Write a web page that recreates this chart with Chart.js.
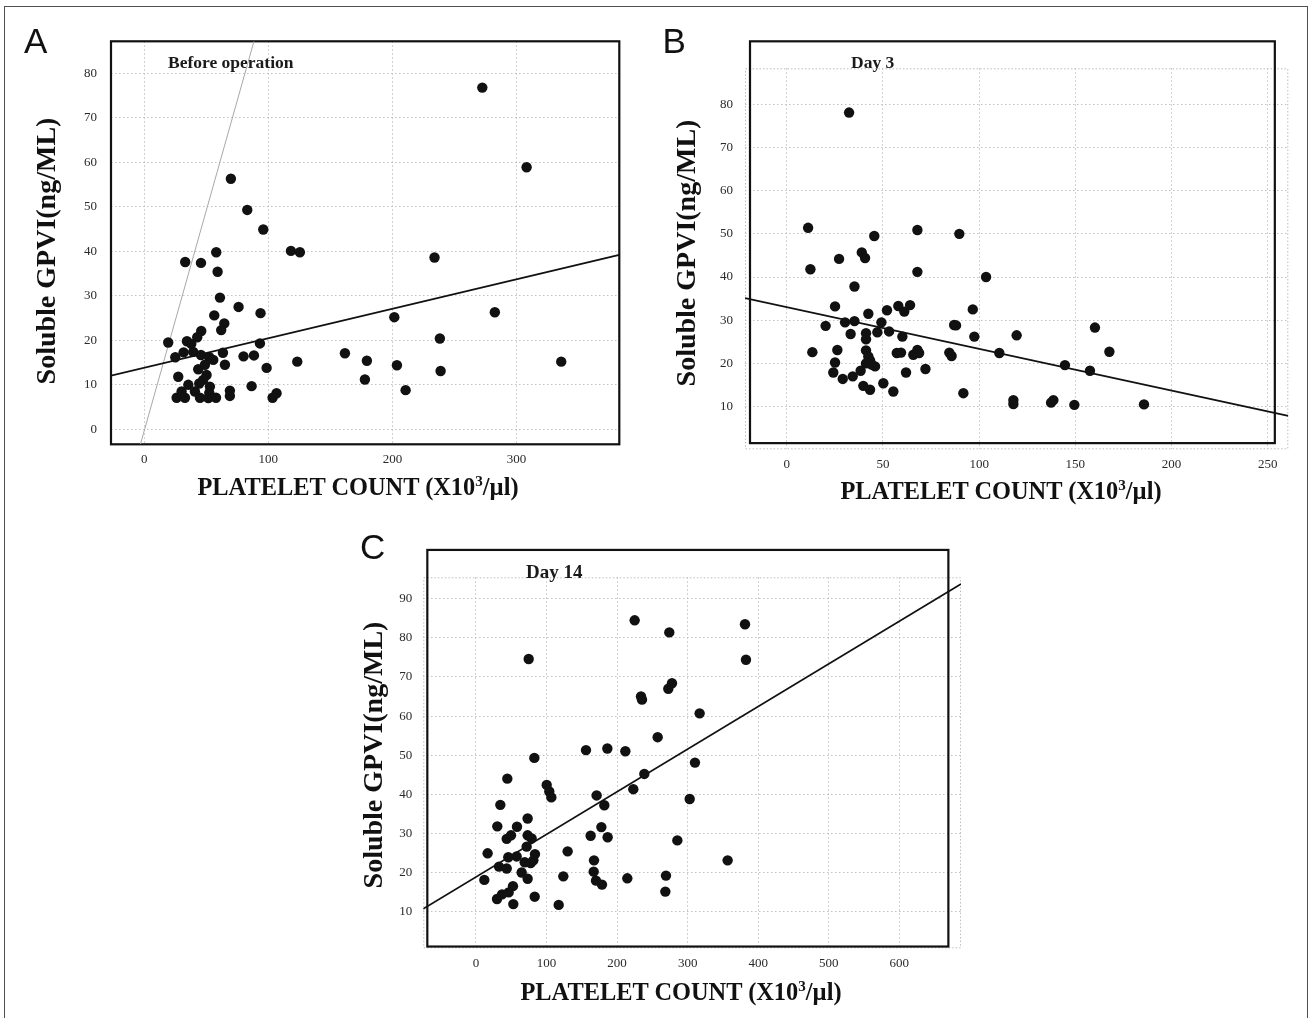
<!DOCTYPE html>
<html>
<head>
<meta charset="utf-8">
<script src="https://cdn.jsdelivr.net/npm/chart.js@4.4.1/dist/chart.umd.min.js"></script>
<style>
  html, body { margin: 0; padding: 0; background: #fff; }
  #figure { position: relative; width: 1312px; height: 1018px; overflow: hidden; }
  #figure canvas { position: absolute; left: 0; top: 0; }
  .outline { position: absolute; left: 4px; top: 6px; width: 1302px; height: 1040px; border: 1.5px solid #505050; }
  .panel { position: absolute; font-family: "Liberation Sans", Arial, sans-serif; font-size: 35px; line-height: 1; color: #111; }
  .ytitle, .xtitle { position: absolute; font-family: "Liberation Serif", "Times New Roman", serif; font-weight: bold;
    line-height: 1; white-space: nowrap; color: #111; transform: translate(-50%, -50%); }
  .ytitle { font-size: 28px; transform: translate(-50%, -50%) rotate(-90deg); }
  .xtitle { font-size: 24.4px; }
  .xtitle .sup { font-size: 0.62em; vertical-align: 0.55em; line-height: 0; }
</style>
</head>
<body>
<div id="figure">
  <div class="outline"></div>
  <canvas id="chartA" width="1312" height="1018"></canvas>
  <canvas id="chartB" width="1312" height="1018"></canvas>
  <canvas id="chartC" width="1312" height="1018"></canvas>

  <div class="panel" style="left:24px;top:22.5px">A</div>
  <div class="panel" style="left:662.5px;top:22.5px">B</div>
  <div class="panel" style="left:360px;top:528.5px">C</div>

  <div class="ytitle" style="left:45.5px;top:251px">Soluble GPVI(ng/ML)</div>
  <div class="ytitle" style="left:686px;top:253px">Soluble GPVI(ng/ML)</div>
  <div class="ytitle" style="left:373px;top:755px">Soluble GPVI(ng/ML)</div>

  <div class="xtitle" style="left:358px;top:487px">PLATELET COUNT (X10<span class="sup">3</span>/µl)</div>
  <div class="xtitle" style="left:1001px;top:491px">PLATELET COUNT (X10<span class="sup">3</span>/µl)</div>
  <div class="xtitle" style="left:681px;top:992px">PLATELET COUNT (X10<span class="sup">3</span>/µl)</div>
</div>

<script>
// ---- values ----
// A: before operation
const beforeX = [69.8, 83.0, 95.9, 58.0, 118.2, 125.4, 33.0, 45.7, 59.1, 233.9, 272.4, 61.0, 76.0, 93.7, 56.4, 64.5, 62.0,
  45.9, 42.7, 19.3, 34.4, 37.9, 93.2, 201.5, 282.5, 238.2, 25.0, 31.7, 39.5, 45.7, 52.4, 55.6, 63.4, 80.0, 88.4, 123.3,
  161.7, 179.4, 203.6, 238.8, 177.8, 210.6, 65.0, 98.6, 43.5, 27.4, 50.2, 47.5, 44.3, 35.5, 86.5, 69.0, 69.0, 26.1, 32.8,
  30.1, 40.8, 44.9, 52.4, 51.6, 57.8, 103.4, 106.6, 52.9, 48.9, 308.1, 336.0];
const beforeY = [56.3, 49.3, 44.9, 39.8, 40.1, 39.8, 37.6, 37.4, 35.4, 38.6, 76.8, 29.6, 27.5, 26.1, 25.6, 23.8, 22.3,
  22.1, 20.7, 19.5, 19.8, 19.2, 19.3, 25.2, 26.3, 20.4, 16.2, 17.3, 17.4, 16.7, 16.2, 15.6, 17.2, 16.4, 16.6, 15.2,
  17.1, 15.4, 14.4, 13.1, 11.2, 8.8, 14.5, 13.8, 13.5, 11.8, 12.2, 11.1, 10.3, 10.0, 9.7, 8.7, 7.5, 7.1, 7.1,
  8.5, 8.5, 7.1, 8.2, 7.0, 7.1, 7.1, 8.1, 9.6, 14.5, 58.9, 15.2];

// B: day 3
const day3X = [32.4, 11.1, 67.9, 89.7, 45.5, 27.2, 39.0, 40.7, 12.3, 67.9, 103.6, 35.2, 25.1, 52.1, 58.0, 64.1, 61.1,
  96.7, 42.4, 20.2, 30.3, 35.2, 49.2, 87.0, 88.0, 160.2, 33.2, 41.2, 41.2, 47.1, 53.2, 60.1, 97.5, 119.5, 13.3, 26.3,
  41.2, 57.2, 59.4, 65.8, 67.9, 68.8, 84.5, 85.7, 110.5, 167.7, 42.4, 43.3, 44.2, 45.9, 25.1, 41.2, 144.6, 157.6, 24.2,
  38.4, 62.0, 72.1, 34.3, 29.1, 50.2, 39.8, 43.3, 55.4, 91.8, 117.8, 117.8, 138.6, 137.4, 149.5, 185.7];
const day3Y = [78.1, 51.4, 50.9, 50.0, 49.5, 44.2, 45.7, 44.4, 41.8, 41.2, 40.0, 37.8, 33.2, 32.3, 33.3, 33.5, 32.0,
  32.5, 31.5, 28.7, 29.5, 29.8, 29.5, 28.9, 28.8, 28.3, 26.8, 27.0, 25.6, 27.2, 27.4, 26.2, 26.2, 26.5, 22.6, 23.1,
  23.0, 22.4, 22.5, 22.0, 23.1, 22.4, 22.5, 21.7, 22.4, 22.7, 21.6, 20.7, 19.7, 19.3, 20.2, 20.0, 19.6, 18.3, 17.9,
  18.3, 17.9, 18.7, 17.0, 16.4, 15.4, 14.8, 13.9, 13.5, 13.1, 11.5, 10.6, 11.5, 10.9, 10.4, 10.5];

// C: day 14
const day14X = [224.9, 274.0, 381.3, 382.7, 74.7, 272.6, 277.8, 233.9, 235.3, 317.0, 257.5, 155.9, 186.2, 211.7, 82.7,
  310.4, 238.6, 44.4, 100.2, 103.9, 106.8, 223.0, 171.0, 302.9, 34.5, 181.9, 73.2, 30.2, 58.1, 177.7, 43.5, 49.6, 73.2,
  78.9, 162.5, 186.6, 285.4, 71.8, 16.5, 129.9, 45.8, 57.6, 83.6, 69.0, 77.5, 81.3, 167.3, 356.7, 32.6, 43.5, 64.7,
  166.8, 269.3, 11.8, 73.2, 123.8, 214.5, 170.1, 178.6, 52.4, 29.8, 36.9, 46.3, 83.2, 268.4, 52.9, 117.2];
const day14Y = [84.5, 81.4, 83.5, 74.4, 74.6, 67.0, 68.4, 65.0, 64.2, 60.7, 54.6, 51.3, 51.7, 51.0, 49.3,
  48.1, 45.2, 44.0, 42.4, 40.7, 39.2, 41.3, 39.7, 38.8, 37.3, 37.2, 33.8, 31.8, 31.7, 31.6, 28.6, 29.5, 29.5,
  28.7, 29.4, 29.0, 28.2, 26.6, 24.9, 25.4, 23.9, 24.1, 24.7, 22.6, 22.4, 23.1, 23.1, 23.1, 21.5, 21.0, 20.0,
  20.2, 19.2, 18.1, 18.4, 19.0, 18.5, 17.9, 16.9, 16.5, 13.2, 14.4, 14.9, 13.8, 15.1, 11.9, 11.7];

// fitted lines (end points)
const beforeFitX = [-26.8, 382.8];
const beforeFitY = [12.05, 39.2];
const beforeRefX = [-3.1, 88.4];     // thin grey line in panel A
const beforeRefY = [-3.37, 87.2];
const day3FitX = [-21.7, 260.7];
const day3FitY = [35.1, 7.85];
const day14FitX = [-74.7, 687.5];
const day14FitY = [10.7, 93.8];

// tick values
const beforeXTicks = [0, 100, 200, 300];
const beforeYTicks = [0, 10, 20, 30, 40, 50, 60, 70, 80];
const day3XTicks = [0, 50, 100, 150, 200, 250];
const day3YTicks = [10, 20, 30, 40, 50, 60, 70, 80];
const day14XTicks = [0, 100, 200, 300, 400, 500, 600];
const day14YTicks = [10, 20, 30, 40, 50, 60, 70, 80, 90];

Chart.defaults.font.family = '"Liberation Serif", "Times New Roman", serif';

const pts = (xs, ys) => xs.map((x, i) => ({ x: x, y: ys[i] }));

// black frame, dotted grid box and the small caption inside each panel
const panelDecor = {
  id: 'panelDecor',
  beforeDatasetsDraw(chart, args, o) {
    const { ctx, chartArea: a } = chart;
    const sx = chart.scales.x, sy = chart.scales.y;
    ctx.save();
    if (o.gridBox) {
      ctx.strokeStyle = '#bdbdbd';
      ctx.lineWidth = 1;
      ctx.setLineDash([1.5, 2]);
      ctx.strokeRect(a.left + 0.5, a.top + 0.5, a.width - 1, a.height - 1);
      ctx.setLineDash([]);
    }
    const l = sx.getPixelForValue(o.frame.x0), r = sx.getPixelForValue(o.frame.x1);
    const t = sy.getPixelForValue(o.frame.y1), b = sy.getPixelForValue(o.frame.y0);
    ctx.strokeStyle = '#111';
    ctx.lineWidth = 2.2;
    ctx.strokeRect(l, t, r - l, b - t);
    ctx.fillStyle = '#1a1a1a';
    ctx.font = 'bold ' + o.noteSize + 'px "Liberation Serif", serif';
    ctx.textBaseline = 'middle';
    ctx.fillText(o.note, sx.getPixelForValue(o.noteX), sy.getPixelForValue(o.noteY));
    ctx.restore();
  }
};

function makePanel(id, p) {
  const datasets = [
    { data: pts(p.xs, p.ys), pointRadius: 5.2, pointBackgroundColor: '#111', pointBorderWidth: 0 },
    { data: pts(p.fitX, p.fitY), showLine: true, borderColor: '#111', borderWidth: 1.8, pointRadius: 0 }
  ];
  if (p.refX) {
    datasets.push({ data: pts(p.refX, p.refY), showLine: true, borderColor: '#a8a8a8', borderWidth: 1, pointRadius: 0 });
  }
  const grid = { color: '#c2c2c2', drawTicks: false };
  return new Chart(document.getElementById(id), {
    type: 'scatter',
    data: { datasets: datasets },
    plugins: [panelDecor],
    options: {
      responsive: false,
      animation: false,
      events: [],
      layout: { padding: p.padding },
      plugins: {
        legend: { display: false },
        tooltip: { enabled: false },
        panelDecor: p.decor
      },
      scales: {
        x: {
          type: 'linear', min: p.xRange[0], max: p.xRange[1],
          afterBuildTicks: s => { s.ticks = p.xTicks.map(v => ({ value: v })); },
          afterFit: s => { s.height = 40; },
          grid: grid,
          border: { display: false, dash: [1.5, 2.5] },
          ticks: { padding: 7, maxRotation: 0, autoSkip: false, color: '#2a2a2a', font: { size: 13 } }
        },
        y: {
          type: 'linear', min: p.yRange[0], max: p.yRange[1],
          afterBuildTicks: s => { s.ticks = p.yTicks.map(v => ({ value: v })); },
          afterFit: s => { s.width = 40; },
          grid: grid,
          border: { display: false, dash: [1.5, 2.5] },
          ticks: { padding: p.yPad, autoSkip: false, color: '#2a2a2a', font: { size: 13 } }
        }
      }
    }
  });
}

makePanel('chartA', {
  xs: beforeX, ys: beforeY, fitX: beforeFitX, fitY: beforeFitY, refX: beforeRefX, refY: beforeRefY,
  xRange: [-26.8, 382.8], yRange: [-3.37, 87.2], xTicks: beforeXTicks, yTicks: beforeYTicks,
  padding: { left: 71, top: 41.3, right: 692.7, bottom: 533.7 }, yPad: 14,
  decor: { gridBox: false, frame: { x0: -26.8, x1: 382.8, y0: -3.37, y1: 87.2 },
    note: 'Before operation', noteX: 19.1, noteY: 82.2, noteSize: 17.5 }
});

makePanel('chartB', {
  xs: day3X, ys: day3Y, fitX: day3FitX, fitY: day3FitY,
  xRange: [-21.7, 260.7], yRange: [0.1, 88.35], xTicks: day3XTicks, yTicks: day3YTicks,
  padding: { left: 705, top: 68.3, right: 23.7, bottom: 528.7 }, yPad: 12,
  decor: { gridBox: true, frame: { x0: -19.1, x1: 253.7, y0: 1.53, y1: 94.6 },
    note: 'Day 3', noteX: 33.4, noteY: 89.35, noteSize: 17.5 }
});

makePanel('chartC', {
  xs: day14X, ys: day14Y, fitX: day14FitX, fitY: day14FitY,
  xRange: [-74.7, 687.5], yRange: [0.6, 95.5], xTicks: day14XTicks, yTicks: day14YTicks,
  padding: { left: 383.3, top: 577.3, right: 351, bottom: 29.7 }, yPad: 11,
  decor: { gridBox: true, frame: { x0: -69, x1: 669.6, y0: 1.05, y1: 102.5 },
    note: 'Day 14', noteX: 70.9, noteY: 96.7, noteSize: 19 }
});
</script>
</body>
</html>
